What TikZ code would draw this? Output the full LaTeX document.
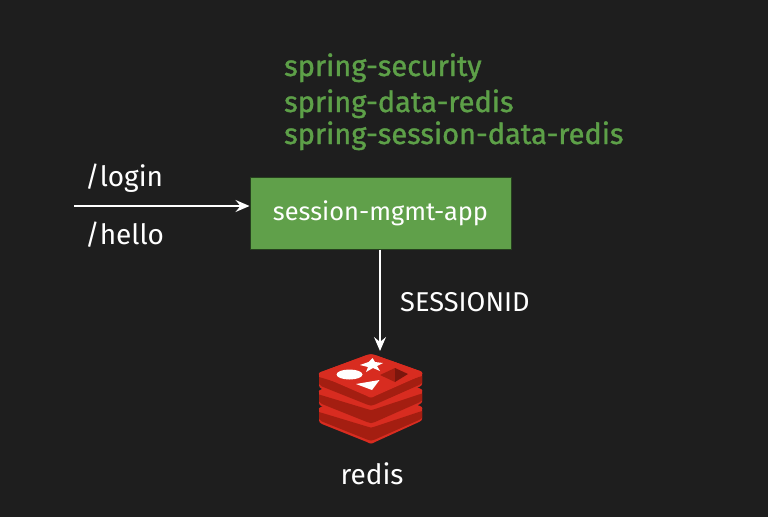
\documentclass[tikz,border=0pt]{standalone}
\usepackage{fontspec}
\setmainfont{Fira Sans}
\usetikzlibrary{arrows.meta}
\definecolor{bgc}{HTML}{1E1E1E}
\definecolor{boxg}{HTML}{60A04A}
\definecolor{txtg}{HTML}{5DA048}
\definecolor{rtop}{HTML}{D82C20}
\definecolor{rside}{HTML}{A41E11}
\begin{document}
\begin{tikzpicture}[x=1pt,y=-1pt,
  lbl/.style={text=white,font=\fontsize{28}{28}\selectfont,inner sep=0pt,anchor=base west},
  dep/.style={text=txtg,font=\fontsize{29}{28}\selectfont\addfontfeature{FakeBold=1.2},inner sep=0pt,anchor=base west},
  conn/.style={draw=white,line width=1.5pt,-{Stealth[length=14pt,width=12pt,inset=5pt]}}]
\useasboundingbox (0,0) rectangle (768,517);
\fill[bgc] (0,0) rectangle (768,517);
\node[dep] (d1) at (284,76) {spring-security};
\node[dep] (d2) at (284,112) {spring-data-redis};
\node[dep] (d3) at (284,144) {spring-session-data-redis};
\node[draw=black!60!boxg,line width=1pt,fill=boxg,minimum width=261pt,minimum height=72pt,inner sep=0pt,text=white,font=\fontsize{25.4}{25}\selectfont] (app) at (380.5,213) {session-mgmt-app};
\coordinate (src) at (74,206);
\draw[conn] (src) -- (app.west |- src);
\node[lbl] (login) at (85,186) {/login};
\node[lbl] (hello) at (85,244) {/hello};
\coordinate (logo) at (380,351);
\draw[conn] (app.south -| logo) -- (logo);
\node[lbl,font=\fontsize{27.2}{27}\selectfont] (sid) at (400,311) {SESSIONID};
\node[lbl,anchor=base] (redis) at (372,484) {redis};
% logo
\foreach \d in {35,17.5,0}{
  \begin{scope}[yshift=-\d]
  \fill[rtop] (319,374) -- (319,385) .. controls (319,387) and (320,388) .. (322,389) -- (367,407) .. controls (370,409) and (372,409) .. (375,407) -- (419,387) .. controls (421,386) and (422,385) .. (422,384) -- (422,373) -- (371,385) -- cycle;
  \fill[rtop] (321,372) -- (367,355) .. controls (370,354) and (372,354) .. (375,355) -- (420,371) .. controls (423,372) and (423,374) .. (420,376) -- (375,396) .. controls (372,398) and (370,398) .. (367,396) -- (321,376) .. controls (318,375) and (318,373) .. (321,372) -- cycle;
  \fill[rside] (319,377) -- (319,384) -- (322,386.5) -- (367,404.5) .. controls (370,406) and (372,406) .. (375,404.5) -- (419,385) -- (422,383) -- (422,376) -- (375,391.5) .. controls (372,393) and (370,393) .. (367,391.5) -- cycle;
  \end{scope}
}
\fill[rtop] (321,372) -- (367,355) .. controls (370,354) and (372,354) .. (375,355) -- (420,371) .. controls (423,372) and (423,374) .. (420,376) -- (375,396) .. controls (372,398) and (370,398) .. (367,396) -- (321,376) .. controls (318,375) and (318,373) .. (321,372) -- cycle;
\fill[white] (349.5,374.5) ellipse (13pt and 5pt);
\fill[white] (372.5,358) -- (375,362) -- (383,363) -- (377,366) -- (380,371) -- (373,368) -- (366,372) -- (368,367) -- (360,365) -- (368.5,362) -- cycle;
\fill[white] (356,384) -- (379.5,380) -- (372,390) -- cycle;
\fill[rside] (380,375) -- (395,368) -- (395,382) -- cycle;
\fill[black!25!rside] (395,368) -- (408,374) -- (395,382) -- cycle;
\end{tikzpicture}
\end{document}
